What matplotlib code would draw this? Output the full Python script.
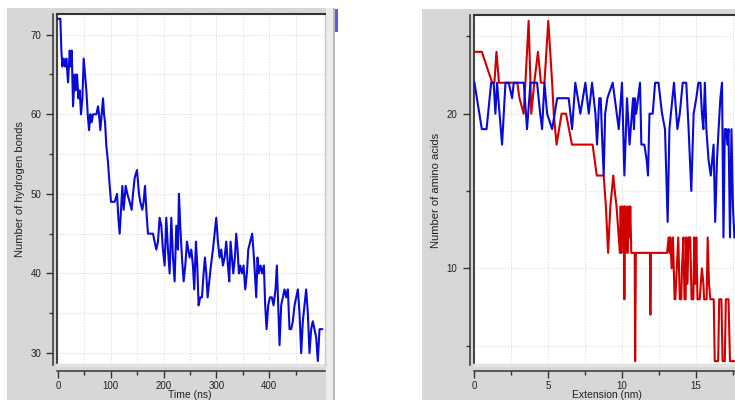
import numpy as np
import matplotlib.pyplot as plt
from matplotlib.patches import Rectangle

plt.rcParams['font.family'] = ['Liberation Sans', 'DejaVu Sans']

# left panel: hydrogen bonds vs time
time_ns = [0, 4.4, 6.3, 8.2, 10.7, 13.2, 15.8, 18.9, 22.1, 24, 25.9, 28.4, 31.5, 33.4, 36, 38.5,
           41, 43.5, 46.1, 48.6, 51.1, 53.6, 56.2, 58.7, 61.2, 63.7, 66.2, 72.6, 75.7, 77.6, 80.1,
           82.6, 85.2, 87.1, 89, 91.5, 94.6, 97.8, 100.3, 107.3, 111.7, 114.2, 116.7, 119.2, 121.8,
           124.3, 128.1, 131.2, 135.6, 139.4, 142, 145.1, 149.5, 153.3, 155.8, 159.6, 162.1, 164.7,
           167.2, 170.3, 179.8, 183, 186.1, 189.3, 192.4, 195.6, 198.7, 201.9, 205, 208.2, 211.4,
           214.5, 217.7, 220.8, 224, 227.1, 229, 231.5, 234.7, 237.9, 241, 244.2, 246.7, 249.2,
           252.4, 255.5, 258, 261.2, 263.7, 266.2, 269.4, 272.6, 275.7, 278.2, 280.8, 283.3, 286.4,
           289.6, 293.4, 296.5, 299.7, 302.8, 306, 309.1, 312.3, 315.5, 318.6, 321.8, 324.3, 326.8,
           329.3, 331.9, 335, 337.5, 340.1, 342.6, 345.1, 348.3, 351.4, 354.6, 357.7, 360.3, 364,
           367.8, 371, 372.9, 375.4, 377.9, 380.4, 383.6, 386.8, 389.9, 392.4, 395, 398.1, 401.3,
           405, 408.2, 412, 414.5, 417, 419.6, 422.7, 425.9, 429, 432.2, 435.3, 438.5, 441.6, 444.8,
           448, 451.1, 454.3, 457.4, 460.6, 463.7, 466.9, 470, 473.2, 476.3, 479.5, 482.6, 485.8,
           488.9, 492.1, 495.3, 500.3]
hbonds = [72, 72, 68, 66, 67, 66, 67, 64, 68, 66, 68, 61, 65, 63, 65, 62,
          63, 60, 62, 67, 65, 63, 60, 58, 60, 59, 60, 60, 61, 60, 58,
          60, 62, 60, 59, 56, 54, 51, 49, 49, 50, 47, 45, 48, 51,
          48, 51, 50, 49, 48, 50, 52, 53, 50, 49, 48, 49, 51,
          48, 45, 45, 44, 43, 44, 47, 46, 43, 41, 47, 43, 40,
          47, 42, 39, 46, 43, 50, 46, 42, 39, 41, 44, 43, 42,
          43, 41, 38, 44, 41, 36, 37, 37, 40, 42, 40, 37, 39,
          41, 43, 45, 47, 44, 42, 43, 41, 42, 44, 41, 39, 44,
          42, 40, 42, 45, 43, 40, 41, 40, 41, 38, 40, 43, 44,
          45, 42, 40, 37, 42, 40, 41, 40, 41, 36, 33, 36, 37,
          37, 36, 38, 41, 36, 31, 36, 37, 38, 37, 38, 33, 33, 34,
          36, 37, 38, 35, 30, 34, 36, 38, 35, 30, 33, 34, 33,
          32, 29, 33, 33]

# right panel: amino acids vs extension
ext_red = [0, 0.5, 1.2, 1.35, 1.49, 1.66, 2.9, 3.05, 3.33, 3.45, 3.67, 3.85, 4.05, 4.3, 4.5, 4.74,
           5.0, 5.26, 5.37, 5.56, 5.9, 6.2, 6.6, 8.0, 8.28, 8.75, 8.9, 9.05, 9.2, 9.4, 9.5, 9.62,
           9.77, 9.85, 9.9, 9.95, 10.0, 10.05, 10.12, 10.15, 10.18, 10.25, 10.3, 10.38, 10.45, 10.5,
           10.55, 10.62, 10.85, 10.88, 10.93, 11.88, 11.91, 11.95, 13.04, 13.15, 13.22, 13.26,
           13.35, 13.44, 13.55, 13.6, 13.7, 13.8, 13.9, 14.0, 14.05, 14.15, 14.22, 14.3, 14.34,
           14.42, 14.5, 14.61, 14.7, 14.82, 14.88, 14.95, 15.02, 15.1, 15.25, 15.4, 15.5, 15.55,
           15.72, 15.79, 15.88, 15.97, 16.2, 16.27, 16.5, 16.57, 16.72, 16.8, 16.95, 17.02, 17.2,
           17.3, 17.65]
aa_red = [24, 24, 22, 22, 24, 22, 22, 21, 20, 22, 26, 20, 22, 24, 22, 22,
          26, 22, 20, 18, 20, 20, 18, 18, 16, 16, 14, 11, 14, 16, 15, 14,
          12, 11, 14, 11, 14, 12, 14, 8, 14, 11, 14, 11, 14, 12,
          14, 11, 11, 4, 11, 11, 7, 11, 11, 12, 11, 12,
          10, 12, 8, 8, 10, 12, 8, 8, 10, 12, 8, 8, 12,
          9, 12, 12, 8, 8, 12, 9, 12, 8, 8, 10, 9, 8,
          8, 12, 9, 8, 8, 4, 4, 8, 8, 4, 4, 8, 8,
          4, 4]
ext_blue = [0, 0.5, 0.82, 1.13, 1.3, 1.42, 1.53, 1.87, 2.1, 2.32, 2.55, 2.66, 3.34, 3.56, 3.79,
            4.24, 4.45, 4.58, 4.74, 4.92, 5.26, 5.6, 6.38, 6.5, 6.61, 6.83, 7.17, 7.51, 7.74, 7.96,
            8.19, 8.3, 8.45, 8.55, 8.62, 8.75, 8.85, 9.0, 9.36, 9.5, 9.77, 9.99, 10.15, 10.33, 10.5,
            10.74, 10.8, 10.87, 10.95, 11.21, 11.3, 11.5, 11.66, 11.75, 11.85, 12.07, 12.23, 12.46,
            12.7, 12.9, 13.08, 13.2, 13.3, 13.51, 13.74, 13.9, 14.1, 14.34, 14.5, 14.68, 14.84,
            15.02, 15.16, 15.3, 15.4, 15.5, 15.6, 15.7, 15.85, 16.0, 16.19, 16.3, 16.42, 16.53,
            16.65, 16.76, 16.86, 16.95, 17.05, 17.12, 17.2, 17.3, 17.4, 17.5, 17.6]
aa_blue = [22, 19, 19, 22, 22, 20, 22, 18, 22, 22, 21, 22, 22, 19, 22,
           22, 20, 19, 22, 20, 19, 21, 21, 20, 19, 22, 20, 22, 20, 22,
           20, 18, 21, 21, 19, 16, 20, 21, 22, 21, 19, 22, 16, 21, 18,
           21, 19, 21, 20, 22, 18, 18, 17, 16, 20, 20, 22, 22,
           20, 19, 13, 19, 20, 22, 19, 20, 22, 22, 19, 15, 20,
           21, 22, 22, 20, 19, 22, 19, 17, 16, 18, 13, 17, 19,
           21, 22, 12, 19, 19, 18, 19, 12, 19, 14, 12]

W, H = 735, 400
fig = plt.figure(figsize=(W / 100, H / 100), dpi=100)


def box(x0, y0, x1, y1):
    # pixel box (top-left origin) -> figure fraction [l, b, w, h]
    return [x0 / W, 1 - y1 / H, (x1 - x0) / W, (y1 - y0) / H]


# window chrome
for (x0, y0, x1, y1), col in [((7, 8, 333, 400), '#d7d7d7'),
                              ((326, 8, 333, 400), '#ebebeb'),
                              ((333, 8, 335, 400), '#b8b8b8'),
                              ((335, 9, 338, 32), '#5a5ae6'),
                              ((422, 9, 735, 400), '#d7d7d7')]:
    l, b, w, h = box(x0, y0, x1, y1)
    fig.patches.append(Rectangle((l, b), w, h, transform=fig.transFigure,
                                 facecolor=col, edgecolor='none', zorder=-5))


def igor_axes(ax):
    ax.set_facecolor('white')
    ax.spines['left'].set_position(('outward', 3))
    ax.spines['bottom'].set_position(('outward', 4.3))
    for s in ('left', 'bottom'):
        ax.spines[s].set_color('#333333')
        ax.spines[s].set_linewidth(1.1)
    ax.spines['top'].set_color('#333333')
    ax.spines['top'].set_linewidth(1.5)
    ax.spines['right'].set_color('#c8c8c8')
    ax.spines['right'].set_linewidth(1.0)
    # inner frame edges
    ax.plot([0, 0], [0, 1], transform=ax.transAxes, color='#333333', lw=1.3, clip_on=False)
    ax.plot([0, 1], [0, 0], transform=ax.transAxes, color='#e2e2e2', lw=2.5, clip_on=False)
    ax.grid(which='both', color='#dadada', linestyle=(0, (1, 1.5)), linewidth=0.8)
    ax.set_axisbelow(True)
    ax.tick_params(which='major', direction='out', length=5, width=1, color='#333333',
                   labelsize=7, labelcolor='#222222', pad=3)
    ax.tick_params(which='minor', direction='out', length=3, width=1, color='#333333')
    ax.tick_params(axis='x', which='major', pad=2)


ax1 = fig.add_axes(box(57, 14, 325, 365))
igor_axes(ax1)
ax1.plot(time_ns, hbonds, color='#0a0ad8', lw=1.5, zorder=3)
ax1.set_xlim(-2, 505.7)
ax1.set_ylim(28.5, 72.6)
ax1.set_xticks(np.arange(0, 401, 100))
ax1.set_xticks(np.arange(50, 501, 100), minor=True)
ax1.set_yticks(np.arange(30, 71, 10))
ax1.set_yticks(np.arange(35, 71, 10), minor=True)
ax1.set_ylabel('Number of hydrogen bonds', fontsize=8, color='#222222')
ax1.set_xlabel('Time (ns)', fontsize=7.5, color='#222222')
ax1.yaxis.set_label_coords(-0.118, 0.5)
ax1.xaxis.set_label_coords(0.496, -0.072)

ax2 = fig.add_axes(box(474, 15, 735, 365))
igor_axes(ax2)
ax2.spines['right'].set_visible(False)
ax2.plot(ext_red, aa_red, color='#d00000', lw=1.5, zorder=3)
ax2.plot(ext_blue, aa_blue, color='#0a0ad8', lw=1.5, zorder=4)
ax2.set_xlim(-0.03, 17.64)
ax2.set_ylim(3.75, 26.38)
ax2.set_xticks([0, 5, 10, 15])
ax2.set_xticks([2.5, 7.5, 12.5, 17.5], minor=True)
ax2.set_yticks([10, 20])
ax2.set_yticks([5, 15, 25], minor=True)
ax2.tick_params(axis='y', which='major', pad=4)
ax2.set_ylabel('Number of amino acids', fontsize=8, color='#222222')
ax2.set_xlabel('Extension (nm)', fontsize=7.5, color='#222222')
ax2.yaxis.set_label_coords(-0.126, 0.5)
ax2.xaxis.set_label_coords(0.508, -0.072)

fig.savefig('out.png', dpi=100)
